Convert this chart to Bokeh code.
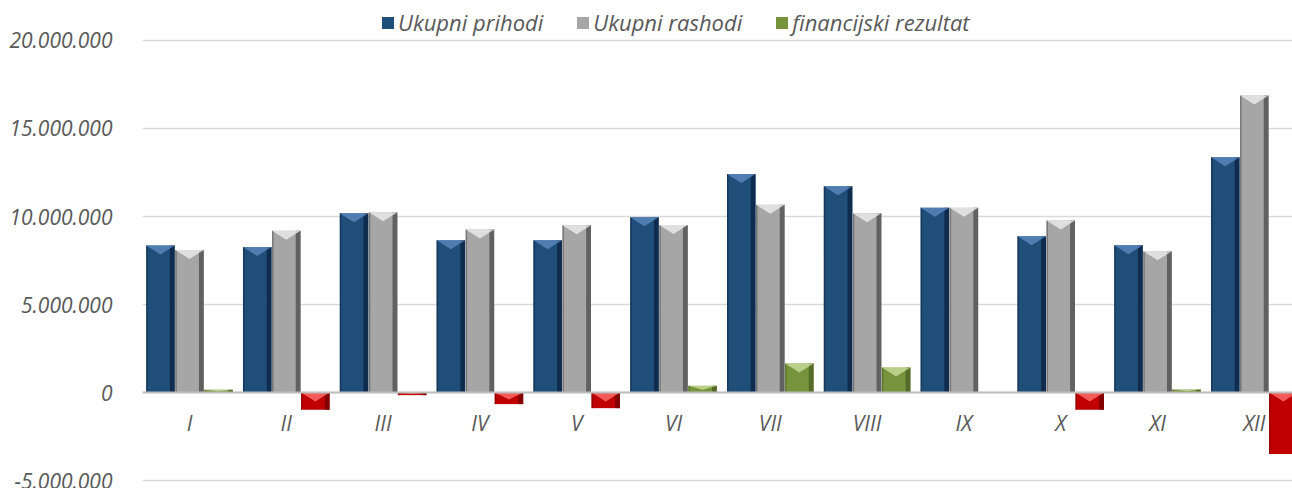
from bokeh.plotting import figure
from bokeh.models import Range1d, FixedTicker, ColumnDataSource, Legend, LegendItem, Span
from bokeh.core.properties import value
from bokeh.embed import file_html
from bokeh.resources import INLINE

# ---- data ----
months = ["I", "II", "III", "IV", "V", "VI", "VII", "VIII", "IX", "X", "XI", "XII"]
prihodi = [8350000, 8270000, 10190000, 8650000, 8650000, 9960000,
           12420000, 11720000, 10500000, 8880000, 8370000, 13370000]
rashodi = [8100000, 9190000, 10240000, 9260000, 9500000, 9520000,
           10670000, 10190000, 10500000, 9770000, 8030000, 16880000]
rezultat = [150000, -980000, -150000, -660000, -890000, 380000,
            1650000, 1420000, 0, -980000, 170000, -3500000]
series_names = ["Ukupni prihodi", "Ukupni rashodi", "financijski rezultat"]
y_ticks = [-5000000, 0, 5000000, 10000000, 15000000, 20000000]
y_tick_labels = ["-5.000.000", "0", "5.000.000", "10.000.000", "15.000.000", "20.000.000"]

# ---- layout ----
W, H = 1292, 488
Y0, Y1 = -5454500, 22272700
X0, X1 = 0.0145, 11.8945
units_per_px = (Y1 - Y0) / H

p = figure(width=W, height=H, output_backend="svg", toolbar_location=None,
           x_range=Range1d(X0, X1), y_range=Range1d(Y0, Y1),
           x_axis_location=None,
           min_border_left=142, min_border_right=0, min_border_top=0, min_border_bottom=0)
p.outline_line_color = None
p.background_fill_color = "white"
p.border_fill_color = "white"
p.xgrid.visible = False

ax = p.yaxis[0]
ax.ticker = FixedTicker(ticks=y_ticks)
ax.major_label_overrides = {t: l for t, l in zip(y_ticks, y_tick_labels)}
ax.axis_line_color = None
ax.major_tick_line_color = None
ax.minor_tick_line_color = None
ax.major_label_standoff = 24
ax.major_label_text_font = "Open Sans"
ax.major_label_text_font_style = "italic"
ax.major_label_text_font_size = "21px"
ax.major_label_text_color = "#595959"

p.ygrid.ticker = FixedTicker(ticks=y_ticks)
p.ygrid.grid_line_color = "#D9D9D9"
p.ygrid.grid_line_width = 1.5

p.add_layout(Span(location=0, dimension="width", line_color="#BFBFBF", line_width=2))

bw = 0.295
offsets = [-0.3, 0.0, 0.3]
tri_px = 9


def bevel_bars(xs, vals, base, dark, light):
    tops = [max(v, 0) for v in vals]
    bots = [min(v, 0) for v in vals]
    src = ColumnDataSource(dict(x=xs, top=tops, bottom=bots))
    r = p.vbar(x="x", top="top", bottom="bottom", width=bw, source=src,
               fill_color=base, line_color=None)
    # darker right edge
    p.vbar(x=[x + bw / 2 - 0.025 for x in xs], top=tops, bottom=bots, width=0.05,
           fill_color=dark, fill_alpha=0.75, line_color=None)
    # slim darker left edge
    p.vbar(x=[x - bw / 2 + 0.008 for x in xs], top=tops, bottom=bots, width=0.016,
           fill_color=dark, fill_alpha=0.5, line_color=None)
    # light bevel triangle on top
    pxs, pys = [], []
    for x, t, b in zip(xs, tops, bots):
        h = t - b
        if h <= 0:
            continue
        d = min(tri_px * units_per_px, h * 0.6)
        pxs.append([x - bw / 2, x + bw / 2, x])
        pys.append([t, t, t - d])
    p.patches(pxs, pys, fill_color=light, fill_alpha=0.8, line_color=None)
    return r


x_pri = [i + 0.5 + offsets[0] for i in range(len(months))]
x_ras = [i + 0.5 + offsets[1] for i in range(len(months))]
x_rez = [i + 0.5 + offsets[2] for i in range(len(months))]

r_pri = bevel_bars(x_pri, prihodi, "#1F4E79", "#0B2240", "#5B8AC0")
r_ras = bevel_bars(x_ras, rashodi, "#A6A6A6", "#4A4A4A", "#EDEDED")

pos_x = [x for x, v in zip(x_rez, rezultat) if v > 0]
pos_v = [v for v in rezultat if v > 0]
neg_x = [x for x, v in zip(x_rez, rezultat) if v < 0]
neg_v = [v for v in rezultat if v < 0]
r_pos = bevel_bars(pos_x, pos_v, "#77933C", "#4A5E22", "#C9DD9A")
r_neg = bevel_bars(neg_x, neg_v, "#C00000", "#6E0000", "#FF7070")

# category labels sitting under the zero line
p.text(x=[i + 0.5 for i in range(len(months))], y=[0] * len(months), text=months,
       text_align="center", text_baseline="middle", y_offset=30,
       text_font=value("Open Sans"), text_font_style="italic",
       text_font_size="21px", text_color="#595959")

legend = Legend(items=[LegendItem(label=series_names[0], renderers=[r_pri]),
                       LegendItem(label=series_names[1], renderers=[r_ras]),
                       LegendItem(label=series_names[2], renderers=[r_pos])],
                orientation="horizontal", location=(238, 451),
                padding=0, margin=0, spacing=32, label_standoff=3,
                glyph_width=15, glyph_height=15,
                border_line_color=None, background_fill_alpha=0,
                label_text_font="Open Sans", label_text_font_style="italic",
                label_text_font_size="22px", label_text_color="#595959")
p.add_layout(legend)

open("out.html", "w").write(file_html(p, INLINE))
